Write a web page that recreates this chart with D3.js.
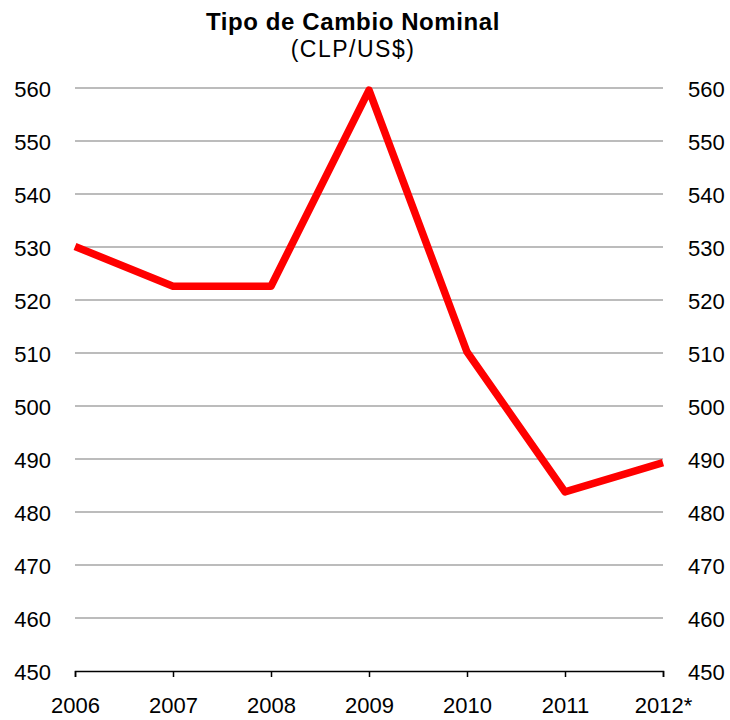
<!DOCTYPE html>
<html>
<head>
<meta charset="utf-8">
<script src="https://cdn.jsdelivr.net/npm/d3@7"></script>
<style>
  body { margin: 0; background: #fff; }
  text { font-family: "Liberation Sans", Arial, sans-serif; fill: #000; }
</style>
</head>
<body>
<div class="canvas"></div>
<script>
// data
const years = ['2006', '2007', '2008', '2009', '2010', '2011', '2012*'];
const values = [530.1, 522.6, 522.6, 559.6, 510.2, 483.8, 489.3];
const yTicks = [450, 460, 470, 480, 490, 500, 510, 520, 530, 540, 550, 560];

const dims = {width: 730, height: 720};
const plot = {left: 75, right: 663, top: 88, bottom: 671};

const svg = d3.select('.canvas')
  .append('svg')
  .attr('width', dims.width)
  .attr('height', dims.height);

// scales
const x = d3.scalePoint()
  .domain(years)
  .range([plot.left, plot.right]);

const y = d3.scaleLinear()
  .domain([450, 560])
  .range([plot.bottom, plot.top]);

// gridlines
svg.append('g')
  .selectAll('line')
  .data(yTicks.filter(d => d !== 450))
  .enter()
  .append('line')
  .attr('x1', plot.left)
  .attr('x2', plot.right)
  .attr('y1', d => y(d))
  .attr('y2', d => y(d))
  .attr('stroke', '#a6a6a6')
  .attr('stroke-width', 1.5);

// left & right value labels
const leftAxis = d3.axisLeft(y).tickValues(yTicks).tickSize(0).tickPadding(24);
const rightAxis = d3.axisRight(y).tickValues(yTicks).tickSize(0).tickPadding(25);

[ [leftAxis, plot.left], [rightAxis, plot.right] ].forEach(([ax, pos]) => {
  const g = svg.append('g')
    .attr('transform', `translate(${pos}, 0)`)
    .call(ax);
  g.select('.domain').remove();
  g.selectAll('text')
    .attr('font-size', 22)
    .attr('font-family', '"Liberation Sans", Arial, sans-serif')
    .attr('fill', '#000')
    .attr('dy', '0.4em');
});

// bottom axis
const xAxis = svg.append('g')
  .attr('transform', `translate(0, ${plot.bottom})`)
  .call(d3.axisBottom(x).tickSize(6).tickSizeOuter(6).tickPadding(23));
xAxis.select('.domain')
  .attr('stroke', '#000')
  .attr('stroke-width', 1.5);
xAxis.selectAll('.tick line')
  .attr('stroke', '#000')
  .attr('stroke-width', 1.5);
xAxis.selectAll('text')
  .attr('font-size', 22)
  .attr('font-family', '"Liberation Sans", Arial, sans-serif')
  .attr('fill', '#000')
  .attr('dy', '0.6em');

// line
const line = d3.line()
  .x((d, i) => x(years[i]))
  .y(d => y(d));

svg.append('path')
  .datum(values)
  .attr('fill', 'none')
  .attr('stroke', '#ff0000')
  .attr('stroke-width', 7.5)
  .attr('stroke-linejoin', 'round')
  .attr('d', line);

// title
svg.append('text')
  .attr('x', 353)
  .attr('y', 30)
  .attr('text-anchor', 'middle')
  .attr('font-size', 24)
  .attr('font-weight', 'bold')
  .attr('letter-spacing', 0.6)
  .text('Tipo de Cambio Nominal');

svg.append('text')
  .attr('x', 353)
  .attr('y', 57)
  .attr('text-anchor', 'middle')
  .attr('font-size', 23)
  .attr('letter-spacing', 1.5)
  .text('(CLP/US$)');
</script>
</body>
</html>
